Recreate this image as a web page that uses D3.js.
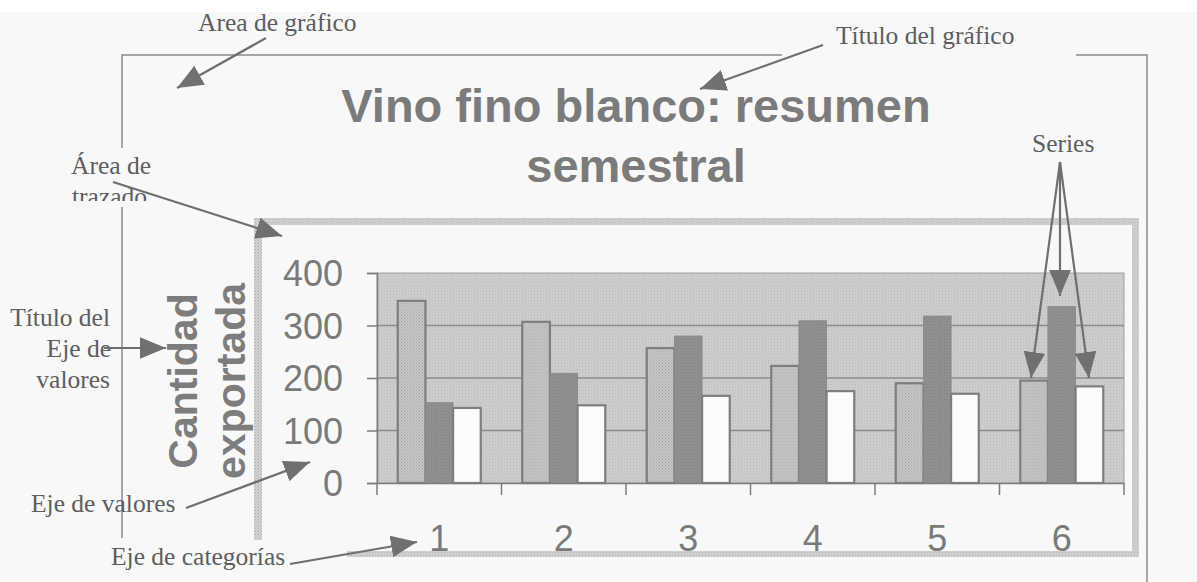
<!DOCTYPE html>
<html lang="es">
<head>
<meta charset="utf-8">
<title>Vino fino blanco: resumen semestral</title>
<script src="https://cdn.jsdelivr.net/npm/d3@7/dist/d3.min.js"></script>
<style>
  html, body { margin: 0; padding: 0; background: #ffffff; }
  svg { display: block; }
</style>
</head>
<body>
<svg id="chart" width="1197" height="582"></svg>
<script>
// Exported quantity of fine white wine, by month of the half-year
const categories = ["1", "2", "3", "4", "5", "6"];
const seriesNames = ["Serie 1", "Serie 2", "Serie 3"];
const serie1 = [347, 307, 257, 223, 190, 195];
const serie2 = [153, 209, 280, 309, 318, 336];
const serie3 = [143, 148, 166, 175, 170, 184];
const yTicks = [0, 100, 200, 300, 400];

const titleLines = ["Vino fino blanco: resumen", "semestral"];
const yTitleLines = ["Cantidad", "exportada"];

const svg = d3.select("#chart");
const defs = svg.append("defs");

// halftone-like fills
function dotPattern(id, base, dot) {
  const p = defs.append("pattern").attr("id", id)
    .attr("width", 3).attr("height", 3).attr("patternUnits", "userSpaceOnUse");
  p.append("rect").attr("width", 3).attr("height", 3).attr("fill", base);
  p.append("rect").attr("x", 0).attr("y", 0).attr("width", 1).attr("height", 1).attr("fill", dot);
  p.append("rect").attr("x", 1.5).attr("y", 1.5).attr("width", 1).attr("height", 1).attr("fill", dot);
}
dotPattern("plotFill", "#d0d0d0", "#b4b4b4");
dotPattern("frameFill", "#d4d4d4", "#acacac");
dotPattern("lightFill", "#c6c6c6", "#a8a8a8");
dotPattern("darkFill", "#939393", "#7c7c7c");

defs.append("marker").attr("id", "head")
  .attr("viewBox", "0 0 12 10").attr("refX", 12).attr("refY", 5)
  .attr("markerWidth", 26).attr("markerHeight", 22)
  .attr("markerUnits", "userSpaceOnUse")
  .attr("orient", "auto")
  .append("path").attr("d", "M0,0 L12,5 L0,10 Z").attr("fill", "#707070");

defs.append("clipPath").attr("id", "cutLabel")
  .append("rect").attr("x", 0).attr("y", 0).attr("width", 400).attr("height", 201);

// paper
svg.append("rect").attr("x", 0).attr("y", 12).attr("width", 1197).attr("height", 570).attr("fill", "#f8f8f8");

// chart area outline
const frameColor = "#8a8a8a";
const outline = svg.append("g").attr("stroke", frameColor).attr("stroke-width", 1.5).attr("fill", "none");
outline.append("path").attr("d", "M122,148 L122,55 L782,55");
outline.append("path").attr("d", "M122,207 L122,538");
outline.append("path").attr("d", "M1076,55 L1147,55 L1147,582");

// plot area frame (textured band)
const band = svg.append("g").attr("fill", "url(#frameFill)");
band.append("rect").attr("x", 254).attr("y", 218).attr("width", 885).attr("height", 7);
band.append("rect").attr("x", 254).attr("y", 218).attr("width", 8).attr("height", 322);
band.append("rect").attr("x", 1132).attr("y", 218).attr("width", 7).attr("height", 339);
band.append("rect").attr("x", 347).attr("y", 551).attr("width", 792).attr("height", 6);

// scales
const plot = { left: 377, right: 1124, top: 273, bottom: 483 };
const x0 = d3.scaleBand().domain(categories).range([plot.left, plot.right]).paddingInner(0).paddingOuter(0);
const x1 = d3.scaleBand().domain(seriesNames).range([0, x0.bandwidth()]).paddingInner(0).paddingOuter(0.75);
const y = d3.scaleLinear().domain([0, 400]).range([plot.bottom, plot.top]);

// plot background
svg.append("rect")
  .attr("x", plot.left).attr("y", y(400))
  .attr("width", plot.right - plot.left).attr("height", y(0) - y(400))
  .attr("fill", "url(#plotFill)").attr("stroke", "#a0a0a0").attr("stroke-width", 1);

// gridlines
svg.append("g").selectAll("line").data(yTicks.filter(d => d > 0 && d < 400)).join("line")
  .attr("x1", plot.left).attr("x2", plot.right)
  .attr("y1", d => y(d)).attr("y2", d => y(d))
  .attr("stroke", "#8c8c8c").attr("stroke-width", 1.5);

// bars
const rows = categories.map((c, i) => ({ cat: c, values: [serie1[i], serie2[i], serie3[i]] }));
const barStyle = {
  "Serie 1": { fill: "url(#lightFill)", stroke: "#7e7e7e", sw: 2.2 },
  "Serie 2": { fill: "url(#darkFill)", stroke: "#878787", sw: 0.8 },
  "Serie 3": { fill: "#fbfbfb", stroke: "#7e7e7e", sw: 2.2 }
};
svg.append("g").selectAll("g").data(rows).join("g")
  .attr("transform", d => `translate(${x0(d.cat)},0)`)
  .selectAll("rect")
  .data(d => d.values.map((v, k) => ({ key: seriesNames[k], value: v })))
  .join("rect")
  .attr("x", d => x1(d.key))
  .attr("y", d => y(d.value))
  .attr("width", x1.bandwidth())
  .attr("height", d => y(0) - y(d.value))
  .attr("fill", d => barStyle[d.key].fill)
  .attr("stroke", d => barStyle[d.key].stroke)
  .attr("stroke-width", d => barStyle[d.key].sw);

// value axis
const axisColor = "#7c7c7c";
const yAxis = svg.append("g").attr("transform", `translate(${plot.left},0)`)
  .call(d3.axisLeft(y).tickValues(yTicks).tickSize(10).tickPadding(24).tickFormat(d3.format("d")));
yAxis.select(".domain").attr("stroke", axisColor).attr("stroke-width", 1.5);
yAxis.selectAll(".tick line").attr("stroke", axisColor).attr("stroke-width", 1.5);
yAxis.selectAll(".tick text")
  .attr("fill", "#7a7a7a").attr("font-family", "'Liberation Sans', Arial, sans-serif")
  .attr("font-size", 36).attr("dy", "0.36em");

// category axis
const xAxis = svg.append("g").attr("transform", `translate(0,${plot.bottom})`)
  .call(d3.axisBottom(x0).tickSize(0).tickPadding(61));
xAxis.select(".domain").attr("stroke", axisColor).attr("stroke-width", 1.5);
xAxis.selectAll(".tick text")
  .attr("fill", "#7a7a7a").attr("font-family", "'Liberation Sans', Arial, sans-serif")
  .attr("font-size", 36).attr("dy", "0.2em");
// boundary ticks between categories
const bounds = categories.map(c => x0(c)).concat([plot.right]);
xAxis.append("g").selectAll("line").data(bounds).join("line")
  .attr("x1", d => d).attr("x2", d => d).attr("y1", 0).attr("y2", 12)
  .attr("stroke", axisColor).attr("stroke-width", 1.5);

// chart title
svg.append("g").selectAll("text").data(titleLines).join("text")
  .attr("x", 636).attr("y", (d, i) => 122 + i * 60)
  .attr("text-anchor", "middle")
  .attr("font-family", "'Liberation Sans', Arial, sans-serif")
  .attr("font-weight", "bold").attr("font-size", 47)
  .attr("fill", "#7b7b7b")
  .text(d => d);

// value axis title
svg.append("g").selectAll("text").data(yTitleLines).join("text")
  .attr("transform", (d, i) => `translate(${197 + i * 48},381) rotate(-90)`)
  .attr("text-anchor", "middle")
  .attr("font-family", "'Liberation Sans', Arial, sans-serif")
  .attr("font-weight", "bold").attr("font-size", 41)
  .attr("fill", "#7d7d7d")
  .text(d => d);

// callouts
const noteFont = "'Liberation Serif', 'Times New Roman', serif";
const notes = [
  { text: "Area de gráfico", x: 198, y: 31, anchor: "start" },
  { text: "Título del gráfico", x: 836, y: 44, anchor: "start" },
  { text: "Series", x: 1032, y: 152, anchor: "start" },
  { text: "Área de", x: 71, y: 174, anchor: "start" },
  { text: "trazado", x: 72, y: 205, anchor: "start", clip: true },
  { text: "Título del", x: 110, y: 326, anchor: "end" },
  { text: "Eje de", x: 111, y: 357, anchor: "end" },
  { text: "valores", x: 110, y: 388, anchor: "end" },
  { text: "Eje de valores", x: 31, y: 512, anchor: "start" },
  { text: "Eje de categorías", x: 111, y: 565, anchor: "start" }
];
svg.append("g").selectAll("text").data(notes).join("text")
  .attr("x", d => d.x).attr("y", d => d.y)
  .attr("text-anchor", d => d.anchor)
  .attr("clip-path", d => d.clip ? "url(#cutLabel)" : null)
  .attr("font-family", noteFont).attr("font-size", 25.5)
  .attr("fill", "#5e5e5e")
  .text(d => d.text);

const arrows = [
  [266, 38, 177, 88],
  [823, 45, 700, 89],
  [113, 182, 282, 236],
  [104, 348, 166, 348],
  [186, 508, 310, 462],
  [290, 564, 417, 542],
  [1060, 162, 1031, 378],
  [1060, 162, 1060, 296],
  [1060, 162, 1089, 378]
];
svg.append("g").selectAll("line").data(arrows).join("line")
  .attr("x1", d => d[0]).attr("y1", d => d[1])
  .attr("x2", d => d[2]).attr("y2", d => d[3])
  .attr("stroke", "#6f6f6f").attr("stroke-width", 2.2)
  .attr("marker-end", "url(#head)");
</script>
</body>
</html>
